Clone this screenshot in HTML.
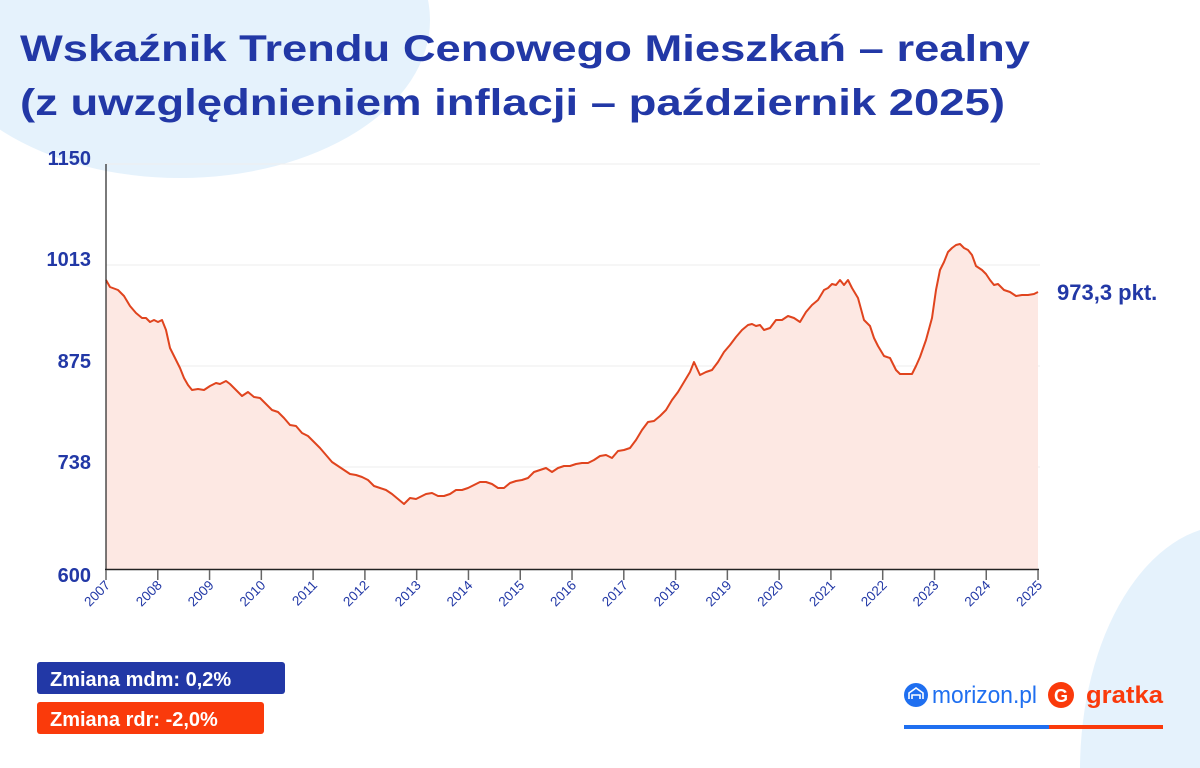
<!DOCTYPE html>
<html style="overflow:hidden"><head><meta charset="utf-8"><style>
html,body{margin:0;width:1200px;height:768px;overflow:hidden}
body{background:#fff;font-family:"Liberation Sans",sans-serif;position:relative}
svg{position:absolute;left:0;top:0;display:block}
</style></head><body>
<svg width="1200" height="768" viewBox="0 0 1200 768">
<ellipse cx="180" cy="20" rx="250" ry="158" fill="#e5f2fc"/>
<ellipse cx="1230" cy="770" rx="150" ry="245" fill="#e5f2fc"/>
<text x="20" y="61" font-size="37" font-weight="bold" fill="#2238a6" textLength="1010" lengthAdjust="spacingAndGlyphs">Wskaźnik Trendu Cenowego Mieszkań – realny</text>
<text x="20" y="115" font-size="37" font-weight="bold" fill="#2238a6" textLength="985" lengthAdjust="spacingAndGlyphs">(z uwzględnieniem inflacji – październik 2025)</text>
<g stroke="#eeeeee" stroke-width="1">
<line x1="106" y1="164" x2="1040" y2="164"/><line x1="106" y1="265" x2="1040" y2="265"/><line x1="106" y1="366" x2="1040" y2="366"/><line x1="106" y1="467" x2="1040" y2="467"/>
</g>
<g font-size="20" font-weight="bold" fill="#2238a6" text-anchor="end">
<text x="91" y="165">1150</text><text x="91" y="266">1013</text><text x="91" y="368">875</text><text x="91" y="469">738</text><text x="91" y="582">600</text>
</g>
<polygon fill="#fde8e3" points="106,569 106,280 110,287 118,290 124,296 130,306 136,313 142,318 146,318 150,322 154,320 158,322 162,320 166,330 170,348 176,360 180,368 184,378 188,385 192,390 198,389 204,390 210,386 216,383 220,384 226,381 230,384 236,390 242,396 248,392 254,397 260,398 266,404 272,410 278,412 284,418 290,425 296,426 302,433 308,436 314,442 320,448 326,455 332,462 338,466 344,470 350,474 356,475 362,477 368,480 374,486 380,488 386,490 392,494 398,499 404,504 410,498 416,499 420,497 426,494 432,493 438,496 444,496 450,494 456,490 462,490 468,488 474,485 480,482 486,482 492,484 498,488 504,488 510,483 516,481 522,480 528,478 534,472 540,470 546,468 552,472 558,468 564,466 570,466 576,464 582,463 588,463 594,460 600,456 606,455 612,458 618,451 624,450 630,448 636,440 642,430 648,422 654,421 660,416 666,410 672,400 678,392 684,382 690,372 694,362 700,375 706,372 712,370 718,362 724,352 730,345 736,337 742,330 748,325 752,324 756,326 760,325 764,330 770,328 776,320 782,320 788,316 794,318 800,322 806,312 812,305 818,300 824,290 828,288 832,284 836,285 840,280 844,285 848,280 852,288 858,298 864,320 870,326 874,338 878,346 884,356 890,358 896,370 900,374 906,374 912,374 916,366 920,357 926,340 932,318 936,290 940,270 944,262 948,252 952,248 956,245 960,244 964,248 968,250 972,255 976,266 982,270 986,274 990,280 994,285 998,284 1004,290 1010,292 1016,296 1022,295 1028,295 1034,294 1038,292 1038,569"/>
<polyline fill="none" stroke="#e0441e" stroke-width="2" stroke-linejoin="round" points="106,280 110,287 118,290 124,296 130,306 136,313 142,318 146,318 150,322 154,320 158,322 162,320 166,330 170,348 176,360 180,368 184,378 188,385 192,390 198,389 204,390 210,386 216,383 220,384 226,381 230,384 236,390 242,396 248,392 254,397 260,398 266,404 272,410 278,412 284,418 290,425 296,426 302,433 308,436 314,442 320,448 326,455 332,462 338,466 344,470 350,474 356,475 362,477 368,480 374,486 380,488 386,490 392,494 398,499 404,504 410,498 416,499 420,497 426,494 432,493 438,496 444,496 450,494 456,490 462,490 468,488 474,485 480,482 486,482 492,484 498,488 504,488 510,483 516,481 522,480 528,478 534,472 540,470 546,468 552,472 558,468 564,466 570,466 576,464 582,463 588,463 594,460 600,456 606,455 612,458 618,451 624,450 630,448 636,440 642,430 648,422 654,421 660,416 666,410 672,400 678,392 684,382 690,372 694,362 700,375 706,372 712,370 718,362 724,352 730,345 736,337 742,330 748,325 752,324 756,326 760,325 764,330 770,328 776,320 782,320 788,316 794,318 800,322 806,312 812,305 818,300 824,290 828,288 832,284 836,285 840,280 844,285 848,280 852,288 858,298 864,320 870,326 874,338 878,346 884,356 890,358 896,370 900,374 906,374 912,374 916,366 920,357 926,340 932,318 936,290 940,270 944,262 948,252 952,248 956,245 960,244 964,248 968,250 972,255 976,266 982,270 986,274 990,280 994,285 998,284 1004,290 1010,292 1016,296 1022,295 1028,295 1034,294 1038,292"/>
<line x1="106" y1="164" x2="106" y2="570" stroke="#222" stroke-width="1.2"/>
<line x1="105" y1="569.5" x2="1039" y2="569.5" stroke="#222" stroke-width="1.5"/>
<g id="ticks" stroke="#666" stroke-width="1.5"></g>
<g font-size="13.5" fill="#2238a6" id="xl"></g>
<text x="1057" y="300" font-size="22" font-weight="bold" fill="#2238a6">973,3 pkt.</text>
<rect x="37" y="662" width="248" height="32" rx="3" fill="#2238a6"/>
<text x="50" y="686" font-size="20" font-weight="bold" fill="#fff">Zmiana mdm: 0,2%</text>
<rect x="37" y="702" width="227" height="32" rx="3" fill="#fa3a0b"/>
<text x="50" y="726" font-size="20" font-weight="bold" fill="#fff">Zmiana rdr: -2,0%</text>
<circle cx="916" cy="695" r="12" fill="#1f6ff0"/>
<path d="M909 699 v-6 l7 -5 l7 5 v6 M912 699 v-4 h8 v4" stroke="#fff" stroke-width="1.6" fill="none"/>
<text x="932" y="703" font-size="24" fill="#1f6ff0" textLength="105" lengthAdjust="spacingAndGlyphs">morizon.pl</text>
<circle cx="1061" cy="695" r="13" fill="#fa3a0b"/>
<text x="1054" y="702" font-size="18" font-weight="bold" fill="#fff">G</text>
<text x="1086" y="703" font-size="24" font-weight="bold" fill="#fa3a0b" textLength="77" lengthAdjust="spacingAndGlyphs">gratka</text>
<rect x="904" y="725" width="145" height="4" fill="#1f6ff0"/>
<rect x="1049" y="725" width="114" height="4" fill="#fa3a0b"/>
</svg>
<script>
var t=document.getElementById('ticks'),l=document.getElementById('xl'),ns='http://www.w3.org/2000/svg';
for(var i=0;i<=18;i++){var x=106+i*51.78;
var ln=document.createElementNS(ns,'line');ln.setAttribute('x1',x);ln.setAttribute('x2',x);ln.setAttribute('y1',570);ln.setAttribute('y2',580);t.appendChild(ln);
var tx=document.createElementNS(ns,'text');tx.setAttribute('transform','translate('+(x+5)+',586) rotate(-45)');tx.setAttribute('text-anchor','end');tx.textContent=2007+i;l.appendChild(tx);}
</script>
</body></html>
